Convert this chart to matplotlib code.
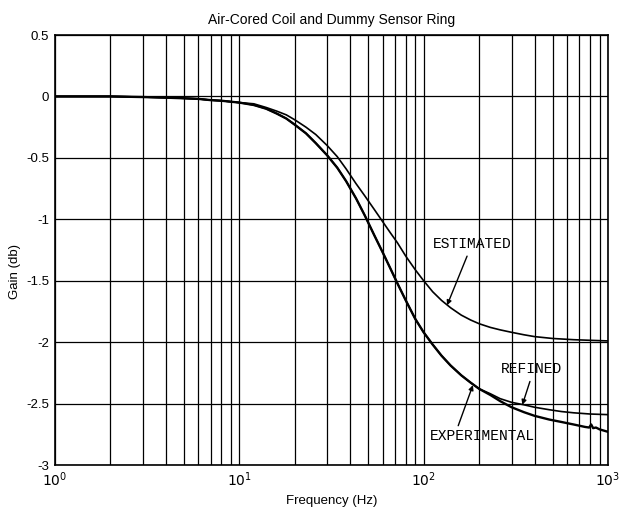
import matplotlib
matplotlib.use("Agg")
import matplotlib.pyplot as plt
from matplotlib.ticker import LogLocator, FixedLocator, NullFormatter

plt.rcParams['font.family'] = ['Liberation Sans', 'DejaVu Sans']

# Frequency response of the air-cored coil with dummy sensor ring
freq_common = [1, 2, 3, 4, 5, 6, 7, 8, 10, 12, 14, 16, 18, 20, 23, 26, 30, 34, 38,
               43, 48, 54, 60, 66, 72, 80, 90, 100, 112, 125, 140, 160, 180, 200]
gain_common = [0.0, 0.0, -0.005, -0.01, -0.015, -0.02, -0.03, -0.035, -0.05, -0.07,
               -0.10, -0.14, -0.18, -0.23, -0.30, -0.38, -0.48, -0.58, -0.69, -0.83,
               -0.97, -1.13, -1.27, -1.40, -1.52, -1.66, -1.81, -1.92, -2.02, -2.11,
               -2.19, -2.27, -2.33, -2.38]

freq_exp_tail = [230, 260, 300, 350, 400, 480, 560, 650, 750, 790, 810, 830, 860, 900, 1000]
gain_exp_tail = [-2.43, -2.48, -2.53, -2.57, -2.60, -2.63, -2.65, -2.67, -2.69, -2.695,
                 -2.67, -2.70, -2.695, -2.71, -2.73]

freq_ref_tail = [230, 260, 300, 350, 400, 480, 560, 650, 800, 1000]
gain_ref_tail = [-2.42, -2.46, -2.49, -2.51, -2.53, -2.55, -2.565, -2.575, -2.585, -2.59]

freq_est = [1, 2, 3, 4, 5, 6, 7, 8, 10, 12, 14, 16, 18, 20, 23, 26, 30, 34, 38, 43, 48,
            54, 60, 66, 72, 80, 90, 100, 112, 125, 140, 160, 180, 200, 230, 260, 300,
            350, 400, 500, 650, 800, 1000]
gain_est = [0.0, 0.0, -0.005, -0.01, -0.015, -0.02, -0.03, -0.035, -0.05, -0.06, -0.09,
            -0.12, -0.15, -0.19, -0.25, -0.31, -0.40, -0.49, -0.59, -0.71, -0.81, -0.92,
            -1.02, -1.11, -1.19, -1.30, -1.41, -1.50, -1.59, -1.66, -1.72, -1.78, -1.82,
            -1.85, -1.88, -1.90, -1.92, -1.94, -1.955, -1.97, -1.98, -1.985, -1.99]

y_ticks = [0.5, 0, -0.5, -1, -1.5, -2, -2.5, -3]
y_tick_labels = ['0.5', '0', '-0.5', '-1', '-1.5', '-2', '-2.5', '-3']
x_ticks = [1, 10, 100, 1000]
x_tick_labels = [r'$10^0$', r'$10^1$', r'$10^2$', r'$10^3$']

freq_exp = freq_common + freq_exp_tail
gain_exp = gain_common + gain_exp_tail
freq_ref = freq_common + freq_ref_tail
gain_ref = gain_common + gain_ref_tail

fig = plt.figure(figsize=(6.23, 5.11), dpi=100)
ax = fig.add_axes([0.088, 0.090, 0.888, 0.8415])

ax.set_xscale('log')
ax.set_xlim(1, 1000)
ax.set_ylim(-3, 0.5)

ax.plot(freq_est, gain_est, color='black', lw=1.2, zorder=3)
ax.plot(freq_ref, gain_ref, color='black', lw=1.2, zorder=3)
ax.plot(freq_exp, gain_exp, color='black', lw=1.7, zorder=3)

ax.xaxis.set_major_locator(FixedLocator(x_ticks))
ax.set_xticklabels(x_tick_labels, fontsize=10)
ax.xaxis.set_minor_locator(LogLocator(base=10, subs=range(2, 10)))
ax.xaxis.set_minor_formatter(NullFormatter())
ax.set_yticks(y_ticks)
ax.set_yticklabels(y_tick_labels, fontsize=9.5)

ax.grid(True, which='major', color='black', lw=0.9)
ax.grid(True, which='minor', axis='x', color='black', lw=0.9)
ax.tick_params(which='both', length=0, pad=4)
for s in ax.spines.values():
    s.set_linewidth(1.2)

ax.set_title('Air-Cored Coil and Dummy Sensor Ring', fontsize=10, pad=8)
ax.set_xlabel('Frequency (Hz)', fontsize=9.5, labelpad=4)
ax.set_ylabel('Gain (db)', fontsize=9.5, labelpad=3)
ax.yaxis.set_label_coords(-0.062, 0.45)

mono = dict(family=['Liberation Mono', 'DejaVu Sans Mono'], fontsize=10.5,
            ha='center', va='center', zorder=4)
arrow = dict(arrowstyle='-|>', color='black', lw=1.0, mutation_scale=7,
             shrinkA=0, shrinkB=0)

ax.text(183, -1.20, 'ESTIMATED', **mono)
ax.annotate('', xy=(134, -1.70), xytext=(172, -1.30), arrowprops=arrow, zorder=4)

ax.text(383, -2.22, 'REFINED', **mono)
ax.annotate('', xy=(343, -2.51), xytext=(377, -2.32), arrowprops=arrow, zorder=4)

ax.text(207, -2.76, 'EXPERIMENTAL', **mono)
ax.annotate('', xy=(185, -2.35), xytext=(154, -2.68), arrowprops=arrow, zorder=4)

fig.savefig('out.png', dpi=100)
